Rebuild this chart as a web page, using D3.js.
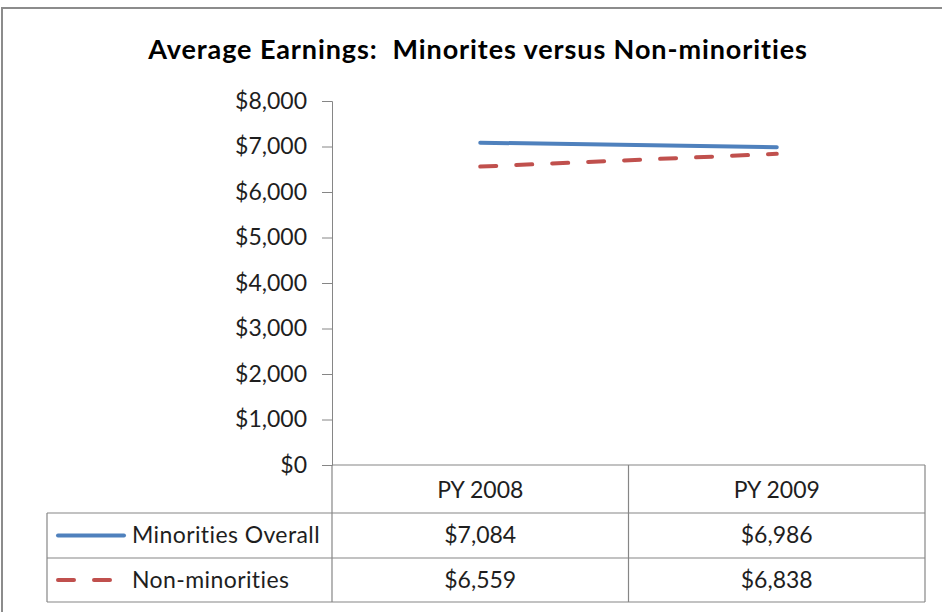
<!DOCTYPE html>
<html><head><meta charset="utf-8">
<script src="https://cdn.jsdelivr.net/npm/d3@7"></script>
<style>body{margin:0;background:#fff;}svg{display:block;}text{font-variant-ligatures:none;}</style>
</head><body>
<script>
const categories = ["PY 2008", "PY 2009"];
const seriesNames = ["Minorities Overall", "Non-minorities"];
const minorities = [7084, 6986];
const nonMinorities = [6559, 6838];
const yTicks = [0, 1000, 2000, 3000, 4000, 5000, 6000, 7000, 8000];
const title = "Average Earnings:  Minorites versus Non-minorities";

(function () {
const W = 942, H = 612;
const font = "Lato, 'Open Sans', sans-serif";
const fs = 23;
const txtColor = "#1e1e1e";
const svg = d3.select("body").append("svg").attr("width", W).attr("height", H);

svg.append("rect").attr("x", 2).attr("y", 8).attr("width", W + 10).attr("height", H + 10)
  .attr("fill", "#fff").attr("stroke", "#8c8c8c").attr("stroke-width", 2);

svg.append("text").attr("x", 478).attr("y", 59).attr("text-anchor", "middle")
  .attr("font-family", font).attr("font-weight", "bold").attr("font-size", 27)
  .attr("letter-spacing", 0.9).style("white-space", "pre")
  .attr("fill", "#000").text(title);

const plotL = 332, plotR = 925, plotTop = 101, plotBottom = 465;
const x = d3.scaleBand().domain(categories).range([plotL, plotR]);
const y = d3.scaleLinear().domain([0, 8000]).range([plotBottom, plotTop]);

const axisColor = "#868686";
const yAxis = svg.append("g").attr("transform", `translate(${plotL},0)`)
  .call(d3.axisLeft(y).tickValues(yTicks).tickSize(10).tickPadding(15)
    .tickFormat(d => "$" + d3.format(",")(d)));
yAxis.select(".domain").attr("stroke", axisColor);
yAxis.selectAll(".tick line").attr("stroke", axisColor);
yAxis.selectAll("text").attr("font-family", font).attr("font-size", fs).attr("fill", txtColor);

const line = d3.line().x((d, i) => x(categories[i]) + x.bandwidth() / 2).y(d => y(d));
svg.append("path").datum(minorities).attr("d", line).attr("fill", "none")
  .attr("stroke", "#4F81BD").attr("stroke-width", 4).attr("stroke-linecap", "round");
svg.append("path").datum(nonMinorities).attr("d", line).attr("fill", "none")
  .attr("stroke", "#C0504D").attr("stroke-width", 4).attr("stroke-linecap", "round")
  .attr("stroke-dasharray", "16,20");

const rowY = [465, 513, 558, 602];
const tableL = 47;
const g = svg.append("g").attr("stroke", axisColor).attr("stroke-width", 1.2);
g.append("line").attr("x1", plotL).attr("x2", plotR).attr("y1", rowY[0]).attr("y2", rowY[0]);
[1, 2, 3].forEach(i => g.append("line").attr("x1", tableL).attr("x2", plotR).attr("y1", rowY[i]).attr("y2", rowY[i]));
g.append("line").attr("x1", plotL).attr("x2", plotL).attr("y1", rowY[0]).attr("y2", rowY[3]);
categories.forEach(c => {
  const xr = x(c) + x.bandwidth();
  g.append("line").attr("x1", xr).attr("x2", xr).attr("y1", rowY[0]).attr("y2", rowY[3]);
});
g.append("line").attr("x1", tableL).attr("x2", tableL).attr("y1", rowY[1]).attr("y2", rowY[3]);

const tf = v => "$" + d3.format(",")(v);
categories.forEach(c => {
  svg.append("text").attr("x", x(c) + x.bandwidth() / 2).attr("y", (rowY[0] + rowY[1]) / 2 + 9)
    .attr("text-anchor", "middle").attr("font-family", font).attr("font-size", fs).attr("fill", txtColor).text(c);
});
const seriesVals = [minorities, nonMinorities];
const colors = ["#4F81BD", "#C0504D"];
seriesVals.forEach((vals, si) => {
  const cy = (rowY[si + 1] + rowY[si + 2]) / 2;
  vals.forEach((v, i) => {
    svg.append("text").attr("x", x(categories[i]) + x.bandwidth() / 2).attr("y", cy + 7.5)
      .attr("text-anchor", "middle").attr("font-family", font).attr("font-size", fs).attr("fill", txtColor).text(tf(v));
  });
  const key = svg.append("line").attr("x1", 58).attr("x2", 124).attr("y1", cy).attr("y2", cy)
    .attr("stroke", colors[si]).attr("stroke-width", 4).attr("stroke-linecap", "round");
  if (si === 1) key.attr("stroke-dasharray", "16,20");
  svg.append("text").attr("x", 132).attr("y", cy + 7.5).attr("font-family", font).attr("font-size", fs)
    .attr("letter-spacing", 0.4).attr("fill", txtColor).text(seriesNames[si]);
});
})();
</script>
</body></html>
